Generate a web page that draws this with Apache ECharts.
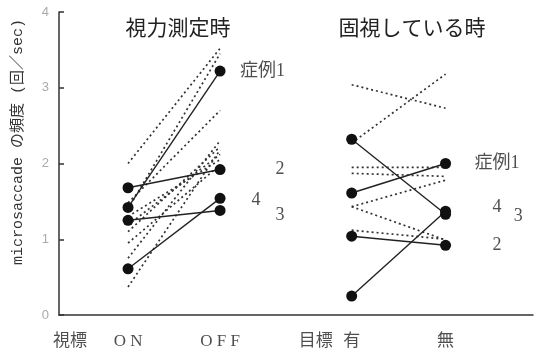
<!DOCTYPE html>
<html>
<head>
<meta charset="utf-8">
<script src="https://cdn.jsdelivr.net/npm/echarts@6/dist/echarts.min.js"></script>
<style>
  html, body { margin: 0; padding: 0; background: #fff; }
  #chart { width: 536px; height: 355px; }
</style>
</head>
<body>
<div id="chart"></div>
<script>
// Horizontal slots for the two conditions in each panel
const posOn = 1, posOff = 2, posYes = 3.43, posNo = 4.45;

// Cases 1-4 (solid lines with dots), microsaccades per second
const visionOn  = [1.42, 1.68, 1.25, 0.61];
const visionOff = [3.22, 1.92, 1.38, 1.54];
const fixYes    = [1.61, 1.04, 2.32, 0.25];
const fixNo     = [2.00, 0.92, 1.33, 1.37];

// Control subjects (dotted lines)
const ctrlVisionOn  = [2.00, 1.40, 1.48, 0.37, 0.75, 1.10, 1.19, 1.30, 0.95];
const ctrlVisionOff = [3.52, 3.45, 2.70, 2.18, 2.30, 2.22, 2.12, 2.05, 1.98];
const ctrlFixYes    = [3.04, 2.27, 1.95, 1.87, 1.43, 1.43, 1.12];
const ctrlFixNo     = [2.73, 3.18, 1.95, 1.83, 1.78, 0.99, 1.00];

// Y axis ticks
const yTicks = [0, 1, 2, 3, 4];

// Case labels: [x, y, text]
const caseLabels = [
  [2.46, 3.22, '症例1'], [2.65, 1.93, '2'], [2.39, 1.52, '4'], [2.65, 1.32, '3'],
  [5.01, 2.00, '症例1'], [5.01, 1.42, '4'], [5.24, 1.31, '3'], [5.01, 0.92, '2']
];

// Condition labels below the axis
const condLabels = [
  [0.37, '視標'], [posOn, 'O N'], [posOff, 'O F F'],
  [3.04, '目標'], [posYes, '有'], [posNo, '無']
];

const FONT = "'Liberation Serif','Noto Sans CJK JP',serif";
const series = [];

function addPairs(a, b, xa, xb, solid) {
  a.forEach((v, i) => {
    series.push({
      type: 'line',
      data: [[xa, v], [xb, b[i]]],
      showSymbol: solid,
      symbol: 'circle',
      symbolSize: 11,
      itemStyle: { color: '#111' },
      lineStyle: solid
        ? { color: '#222', width: 1.4, type: 'solid' }
        : { color: '#333', width: 1.7, type: [2, 3] },
      z: solid ? 3 : 2,
      silent: true,
      animation: false
    });
  });
}

addPairs(ctrlVisionOn, ctrlVisionOff, posOn, posOff, false);
addPairs(ctrlFixYes, ctrlFixNo, posYes, posNo, false);
addPairs(visionOn, visionOff, posOn, posOff, true);
addPairs(fixYes, fixNo, posYes, posNo, true);

series.push({
  type: 'scatter',
  symbolSize: 0,
  clip: false,
  silent: true,
  animation: false,
  data: caseLabels.map(d => ({ value: [d[0], d[1]], name: d[2] })),
  label: {
    show: true, position: 'inside', formatter: p => p.name,
    fontFamily: FONT, fontSize: 18, color: '#222'
  }
});

series.push({
  type: 'scatter',
  symbolSize: 0,
  clip: false,
  silent: true,
  animation: false,
  data: condLabels.map(d => ({ value: [d[0], -0.35], name: d[1] })),
  label: {
    show: true, position: 'inside', formatter: p => p.name,
    fontFamily: FONT, fontSize: 17, color: '#222'
  }
});

const chart = echarts.init(document.getElementById('chart'));
chart.setOption({
  backgroundColor: '#fff',
  animation: false,
  grid: { left: 59, right: 3, top: 12, bottom: 40 },
  title: [
    { text: '視力測定時', left: 173, top: 14, textAlign: 'center',
      textStyle: { fontFamily: FONT, fontSize: 21, fontWeight: 'normal', color: '#222' } },
    { text: '固視している時', left: 407, top: 14, textAlign: 'center',
      textStyle: { fontFamily: FONT, fontSize: 21, fontWeight: 'normal', color: '#222' } }
  ],
  xAxis: {
    type: 'value', min: 0.25, max: 5.4,
    axisLine: { show: true, onZero: false, lineStyle: { color: '#333', width: 1.5 } },
    axisTick: { show: false },
    axisLabel: { show: false },
    splitLine: { show: false }
  },
  yAxis: {
    type: 'value', min: yTicks[0], max: yTicks[yTicks.length - 1], interval: 1,
    axisLine: { show: true, lineStyle: { color: '#333', width: 1.5 } },
    axisTick: { show: true, inside: true, length: 5, lineStyle: { color: '#333', width: 1.5 } },
    axisLabel: { color: '#aaa', fontSize: 13, margin: 10, fontFamily: "'Liberation Sans',sans-serif" },
    splitLine: { show: false }
  },
  graphic: [{
    type: 'text',
    x: 18, y: 142,
    rotation: Math.PI / 2,
    style: {
      text: 'microsaccade の頻度 (回／sec)',
      font: "15px 'Liberation Mono','Noto Sans CJK JP',monospace",
      fill: '#333',
      textAlign: 'center',
      textVerticalAlign: 'middle'
    }
  }],
  series: series
});
</script>
</body>
</html>
